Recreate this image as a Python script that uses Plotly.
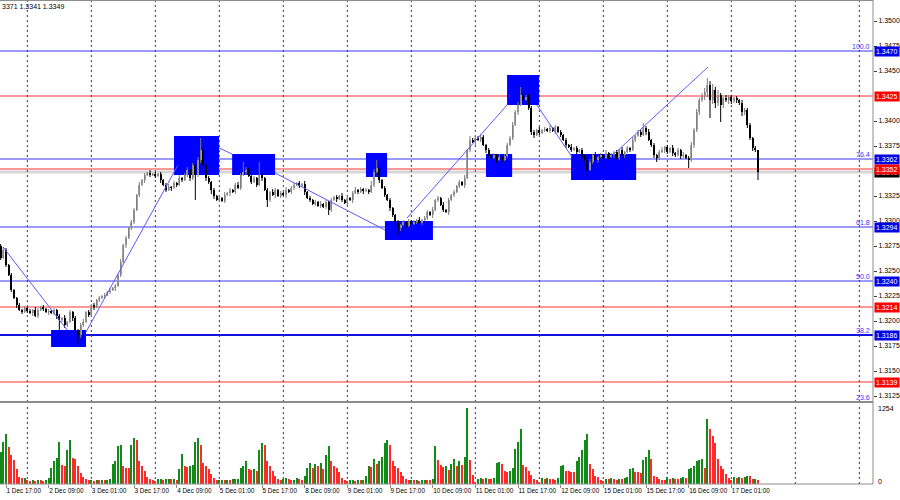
import plotly.graph_objects as go

# ---------------- data (prices in pips: price = 1 + pips/10000) ----------------
start_index = -2          # bar index of first candle; bar 0 = 1 Dec 17:00 (H1)
first_open = 3275
closes = [
    3263, 3271, 3256, 3246, 3231, 3223, 3216, 3211, 3209, 3213,
    3210, 3208, 3211, 3205, 3211, 3214, 3212, 3209, 3210, 3208,
    3211, 3205, 3201, 3203, 3196, 3199, 3209, 3203, 3191, 3186,
    3196, 3199, 3209, 3206, 3216, 3214, 3221, 3223, 3225, 3226,
    3229, 3231, 3233, 3235, 3246, 3259, 3276, 3283, 3293, 3299,
    3311, 3326, 3336, 3341, 3346, 3348, 3346, 3347, 3345, 3347,
    3341, 3336, 3331, 3334, 3333, 3338, 3336, 3343, 3341, 3346,
    3351, 3343, 3356, 3346, 3361, 3371, 3356, 3343, 3339, 3331,
    3325, 3321, 3323, 3320, 3326, 3328, 3331, 3329, 3336, 3333,
    3346, 3349, 3351, 3345, 3339, 3343, 3336, 3346, 3343, 3331,
    3321, 3329, 3326, 3331, 3325, 3328, 3326, 3331, 3329, 3333,
    3336, 3338, 3335, 3337, 3329, 3323, 3321, 3317, 3319, 3315,
    3317, 3314, 3319, 3311, 3321, 3324, 3322, 3325, 3321, 3318,
    3323, 3321, 3328, 3331, 3329, 3332, 3330, 3331, 3329, 3336,
    3349, 3353, 3341, 3333, 3326, 3321, 3313, 3306, 3299, 3293,
    3296, 3299, 3295, 3300, 3297, 3299, 3301, 3298, 3301, 3303,
    3309, 3306, 3311, 3321, 3323, 3316, 3311, 3309, 3321, 3326,
    3329, 3335, 3339, 3336, 3343, 3371, 3381, 3379, 3383, 3381,
    3384, 3376, 3371, 3366, 3363, 3366, 3361, 3364, 3361, 3365,
    3376, 3383, 3396, 3409, 3416, 3426, 3421, 3424, 3413, 3389,
    3386, 3391, 3388, 3391, 3392, 3390, 3393, 3390, 3394, 3389,
    3386, 3381, 3376, 3374, 3371, 3373, 3369, 3371, 3365, 3361,
    3351, 3359, 3366, 3361, 3364, 3366, 3363, 3368, 3364, 3366,
    3369, 3363, 3371, 3366, 3369, 3373, 3371, 3381, 3385, 3389,
    3386, 3393, 3389, 3381, 3376, 3366, 3363, 3369, 3371, 3374,
    3369, 3373, 3368, 3366, 3371, 3365, 3366, 3363, 3361, 3376,
    3391, 3409, 3421, 3425, 3429, 3436, 3421, 3431, 3418, 3426,
    3416, 3423, 3421, 3424, 3420, 3423, 3421, 3418, 3409, 3411,
    3396, 3383, 3373, 3371, 3349,
]
# wick lengths in pips beyond the body (one base-36 digit per bar)
upper_wicks = ("2321211212" "1213212121" "2121312121" "2312121212" "1212131212"
               "2131213121" "2123121312" "31213c2121" "2121312123" "2a32121d21"
               "2132121312" "2121312121" "3121212131" "2123121214" "3821212112"
               "1212121312" "2131213121" "2121314232" "3212121312" "2232383232"
               "2131213121" "2121312121" "2313121312" "1213121312" "2523121231"
               "2131213123" "2323474635" "2132212132" "22120")
lower_wicks = ("2121213121" "2131212131" "23j2321348" "3212131212" "1213121312"
               "2121312121" "3121312121" "232p232324" "3121213121" "2131212131"
               "7213121312" "2121312121" "2125213121" "2131213121" "2131213217"
               "3121312121" "2131212131" "2121312131" "2131213121" "2121312123"
               "3121212131" "2131212131" "a121312121" "3121312121" "2131234213"
               "2132132182" "323245i453" "h324323243" "32328")
volumes = [
    520, 690, 820, 610, 480, 400, 250, 115, 94, 100,
    60, 55, 70, 50, 65, 60, 55, 60, 95, 270,
    380, 430, 690, 320, 300, 560, 720, 430, 420, 300,
    180, 120, 80, 60, 70, 55, 65, 60, 70, 58,
    62, 80, 330, 375, 620, 640, 300, 270, 260, 640,
    760, 720, 380, 300, 220, 110, 80, 60, 50, 75,
    82, 70, 80, 85, 80, 90, 70, 250, 500, 300,
    280, 290, 310, 700, 760, 650, 350, 300, 240, 160,
    100, 60, 65, 70, 60, 65, 58, 75, 80, 90,
    270, 300, 375, 250, 230, 240, 220, 560, 680, 640,
    380, 300, 220, 140, 80, 60, 90, 95, 80, 65,
    70, 95, 80, 70, 140, 270, 350, 260, 330, 300,
    350, 250, 480, 620, 380, 300, 260, 190, 95, 70,
    50, 60, 65, 55, 70, 60, 65, 140, 300, 280,
    410, 330, 380, 450, 680, 720, 640, 380, 300, 260,
    200, 140, 90, 60, 70, 60, 65, 55, 60, 70,
    65, 60, 80, 620, 400, 320, 280, 300, 230, 330,
    420, 300, 380, 320, 440, 1254, 400, 150, 30, 90,
    100, 80, 95, 90, 80, 100, 350, 360, 330, 220,
    200, 210, 270, 580, 700, 900, 320, 280, 220, 150,
    80, 60, 30, 95, 80, 100, 90, 85, 70, 100,
    300, 310, 220, 210, 200, 200, 380, 450, 560, 720,
    820, 330, 250, 140, 110, 60, 50, 80, 75, 95,
    80, 70, 90, 80, 100, 110, 250, 260, 200, 190,
    180, 400, 450, 560, 410, 140, 110, 90, 70, 60,
    110, 80, 100, 90, 75, 100, 110, 100, 250, 270,
    300, 375, 390, 420, 270, 1080, 900, 800, 680, 420,
    300, 250, 170, 95, 60, 110, 100, 120, 95, 110,
    140, 130, 80, 85, 60,
]
vol_max_label = "1254"

label_bars = [0, 16, 32, 48, 64, 80, 96, 112, 128, 144, 160, 176, 192, 208, 224, 240, 256, 272]
label_texts = ["1 Dec 17:00", "2 Dec 09:00", "3 Dec 01:00", "3 Dec 17:00", "4 Dec 09:00",
               "5 Dec 01:00", "5 Dec 17:00", "8 Dec 09:00", "9 Dec 01:00", "9 Dec 17:00",
               "10 Dec 09:00", "11 Dec 01:00", "11 Dec 17:00", "12 Dec 09:00", "15 Dec 01:00",
               "15 Dec 17:00", "16 Dec 09:00", "17 Dec 01:00"]
day_bars = [8, 32, 56, 80, 104, 128, 152, 176, 200, 224, 248, 272, 296, 320]

# tick labels fully hidden under the level boxes (1.3350, 1.3425) are left out
price_ticks = [1.3125, 1.3150, 1.3175, 1.3200, 1.3225, 1.3250, 1.3275, 1.3300,
               1.3325, 1.3375, 1.3400, 1.3450, 1.3475, 1.3500]
price_tick_text = ["1.3125", "1.3150", "1.3175", "1.3200", "1.3225", "1.3250", "1.3275", "1.3300",
                   "1.3325", "1.3375", "1.3400", "1.3450", "1.3475", "1.3500"]

fib_levels = [1.3470, 1.3362, 1.3294, 1.3240, 1.3186, 1.3119]
fib_names = ["100.0", "76.4", "61.8", "50.0", "38.2", "23.6"]
fib_box_text = ["1.3470", "1.3362", "1.3294", "1.3240", "1.3186", ""]
thick_level = 1.3186
red_levels = [1.3425, 1.3352, 1.3214, 1.3139]
red_box_text = ["1.3425", "1.3352", "1.3214", "1.3139"]
bid_price = 1.3349
bid_text = "1.3349"
header_text = "3371 1.3341 1.3349"

zone_x0 = [16.9, 63.0, 84.8, 135.0, 142.1, 180.0, 187.9, 211.9]
zone_x1 = [30.0, 79.9, 100.9, 142.9, 160.1, 189.8, 199.9, 236.3]
zone_lo = [3174, 3346, 3346, 3344, 3281, 3344, 3416, 3341]
zone_hi = [3191, 3385, 3367, 3368, 3300, 3367, 3446, 3367]

zz_x = [[-1.1, 22.9], [30.0, 64.5], [79.9, 84.75], [100.9, 142.1],
        [150.4, 187.9], [199.1, 212.25], [228.4, 263.25]]
zz_p = [[3274, 3191], [3189, 3356], [3373, 3367], [3348, 3291],
        [3303, 3416], [3416, 3364], [3368, 3454]]

# ---------------- derived ----------------
def pr(v):
    return round(1 + v / 10000.0, 4)

n = len(closes)
idx = list(range(start_index, start_index + n))
opens = [first_open] + closes[:-1]
highs = [max(o, c) + int(u, 36) for o, c, u in zip(opens, closes, upper_wicks)]
lows = [min(o, c) - int(d, 36) for o, c, d in zip(opens, closes, lower_wicks)]

BULL_FILL, BULL_LINE, BEAR = "#a6a6a6", "#7c7c7c", "#000000"

body_base, body_h, body_col = [], [], []
wick_bull_x, wick_bull_y, wick_bear_x, wick_bear_y = [], [], [], []
for i, o, h, l, c in zip(idx, opens, highs, lows, closes):
    lo_b, hi_b = min(o, c), max(o, c)
    body_base.append(pr(lo_b))
    body_h.append(max(hi_b - lo_b, 0.6) / 10000.0)
    bull = c >= o
    body_col.append(BULL_FILL if bull else BEAR)
    if bull:
        wick_bull_x += [i, i, None]
        wick_bull_y += [pr(l), pr(h), None]
    else:
        wick_bear_x += [i, i, None]
        wick_bear_y += [pr(l), pr(h), None]

vol_colors = []
prev = None
for v in volumes:
    vol_colors.append("#13891a" if (prev is None or v > prev) else "#ff2a2a")
    prev = v

# ---------------- layout geometry ----------------
W, H = 900, 500
PLOT_R = 873 / W
BAR_PX = 8 / 3
X0_PX = 6
x_range = [-X0_PX / BAR_PX, (873 - X0_PX) / BAR_PX]
main_dom = [1 - 402 / H, 1.0]
vol_dom = [1 - 484 / H, 1 - 404 / H]
y_range = [1.3119, 1.3521]
vol_range = [0, 1320]

FONT = "Liberation Sans"
BLUE = "#3535ff"
RED = "#ff3030"
AX = "#8c8c8c"

fig = go.Figure()

fig.add_trace(go.Scatter(x=wick_bull_x, y=wick_bull_y, mode="lines",
                         line=dict(color=BULL_LINE, width=1), xaxis="x", yaxis="y",
                         showlegend=False, hoverinfo="skip"))
fig.add_trace(go.Scatter(x=wick_bear_x, y=wick_bear_y, mode="lines",
                         line=dict(color=BEAR, width=1), xaxis="x", yaxis="y",
                         showlegend=False, hoverinfo="skip"))
fig.add_trace(go.Bar(x=idx, y=body_h, base=body_base, width=0.8,
                     marker=dict(color=body_col, line=dict(width=0)),
                     xaxis="x", yaxis="y", showlegend=False, hoverinfo="skip"))

zx, zy = [], []
for xs, ps in zip(zz_x, zz_p):
    zx += xs + [None]
    zy += [pr(p) for p in ps] + [None]
fig.add_trace(go.Scatter(x=zx, y=zy, mode="lines", line=dict(color="#5a5aff", width=1),
                         xaxis="x", yaxis="y", showlegend=False, hoverinfo="skip"))

fig.add_trace(go.Bar(x=idx, y=volumes, marker=dict(color=vol_colors, line=dict(width=0)),
                     width=0.78, xaxis="x2", yaxis="y2", showlegend=False, hoverinfo="skip"))

shapes = []
for a, b, lo, hi in zip(zone_x0, zone_x1, zone_lo, zone_hi):
    shapes.append(dict(type="rect", xref="x", yref="y", x0=a, x1=b, y0=pr(lo), y1=pr(hi),
                       fillcolor="#0000ff", line=dict(width=0), layer="below"))
shapes.append(dict(type="line", xref="paper", yref="y", x0=0, x1=PLOT_R, y0=bid_price, y1=bid_price,
                   line=dict(color="#d6d6d6", width=3), layer="below"))
for lv in fib_levels:
    w = 2 if lv == thick_level else 1
    col = "#1010e0" if lv == thick_level else BLUE
    shapes.append(dict(type="line", xref="paper", yref="y", x0=0, x1=PLOT_R, y0=lv, y1=lv,
                       line=dict(color=col, width=w), layer="below"))
for lv in red_levels:
    shapes.append(dict(type="line", xref="paper", yref="y", x0=0, x1=PLOT_R, y0=lv, y1=lv,
                       line=dict(color=RED, width=1), layer="below"))
for d in day_bars:
    for dom in (main_dom, vol_dom):
        shapes.append(dict(type="line", xref="x", yref="paper", x0=d, x1=d, y0=dom[0], y1=dom[1],
                           line=dict(color="#3a3a3a", width=1, dash="2px,3px"), layer="below"))
shapes.append(dict(type="line", xref="paper", yref="paper", x0=0, x1=PLOT_R, y0=main_dom[0], y1=main_dom[0],
                   line=dict(color=AX, width=2)))
shapes.append(dict(type="line", xref="paper", yref="paper", x0=0, x1=PLOT_R, y0=0.999, y1=0.999,
                   line=dict(color=AX, width=1)))
shapes.append(dict(type="line", xref="paper", yref="paper", x0=0, x1=PLOT_R, y0=vol_dom[0], y1=vol_dom[0],
                   line=dict(color=AX, width=1)))
shapes.append(dict(type="line", xref="paper", yref="paper", x0=PLOT_R, x1=PLOT_R, y0=vol_dom[0], y1=1,
                   line=dict(color=AX, width=1)))

ann = []
LBL_X = 874 / W
ann.append(dict(xref="paper", yref="y", x=LBL_X, y=bid_price, text=bid_text, showarrow=False,
                xanchor="left", yanchor="middle", font=dict(family=FONT, size=7, color="white"),
                bgcolor="#000000", borderpad=1))
for lv, t in zip(fib_levels, fib_box_text):
    if t:
        ann.append(dict(xref="paper", yref="y", x=LBL_X, y=lv, text=t, showarrow=False,
                        xanchor="left", yanchor="middle", font=dict(family=FONT, size=7, color="white"),
                        bgcolor="#0000e6", borderpad=1))
for lv, t in zip(red_levels, red_box_text):
    ann.append(dict(xref="paper", yref="y", x=LBL_X, y=lv, text=t, showarrow=False,
                    xanchor="left", yanchor="middle", font=dict(family=FONT, size=7, color="white"),
                    bgcolor="#ff0000", borderpad=1))
for lv, t in zip(fib_levels, fib_names):
    ann.append(dict(xref="paper", yref="y", x=PLOT_R - 1 / W, y=lv, text=t, showarrow=False,
                    xanchor="right", yanchor="bottom", yshift=-1,
                    font=dict(family=FONT, size=7, color=BLUE)))
ann.append(dict(xref="paper", yref="y2", x=LBL_X + 2 / W, y=1254, text=vol_max_label, showarrow=False,
                xanchor="left", yanchor="middle", font=dict(family=FONT, size=7, color="black")))
ann.append(dict(xref="paper", yref="y2", x=LBL_X + 2 / W, y=0, text="0", showarrow=False,
                xanchor="left", yanchor="middle", yshift=3, font=dict(family=FONT, size=7, color="black")))
ann.append(dict(xref="paper", yref="paper", x=0, y=1, text=header_text, showarrow=False,
                xanchor="left", yanchor="top", yshift=-1, font=dict(family=FONT, size=7, color="black")))

fig.update_layout(
    width=W, height=H, margin=dict(l=0, r=0, t=0, b=0),
    paper_bgcolor="white", plot_bgcolor="white",
    font=dict(family=FONT, size=7, color="black"),
    showlegend=False, barmode="overlay", bargap=0, hovermode=False,
    xaxis=dict(domain=[0, PLOT_R], range=x_range, anchor="y", showticklabels=False, ticks="",
               showgrid=False, zeroline=False, fixedrange=True),
    xaxis2=dict(domain=[0, PLOT_R], range=x_range, anchor="y2", showgrid=False, zeroline=False,
                tickmode="array", tickvals=label_bars, ticktext=label_texts, tickangle=0,
                ticks="outside", ticklen=3, tickcolor=AX, ticklabelposition="outside right",
                tickfont=dict(family=FONT, size=6.4, color="black"), automargin=False),
    yaxis=dict(domain=main_dom, range=y_range, side="right", anchor="x", showgrid=False,
               zeroline=False, tickmode="array", tickvals=price_ticks, ticktext=price_tick_text,
               ticks="outside", ticklen=3, tickcolor="#404040",
               tickfont=dict(family=FONT, size=7, color="black"), automargin=False),
    yaxis2=dict(domain=vol_dom, range=vol_range, side="right", anchor="x2", showgrid=False,
                zeroline=False, showticklabels=False, ticks="", automargin=False),
    shapes=shapes, annotations=ann,
)

fig.write_html("out.html", config={"displayModeBar": False, "staticPlot": True},
               post_script="document.body.style.margin='0';document.body.style.overflow='hidden';")
